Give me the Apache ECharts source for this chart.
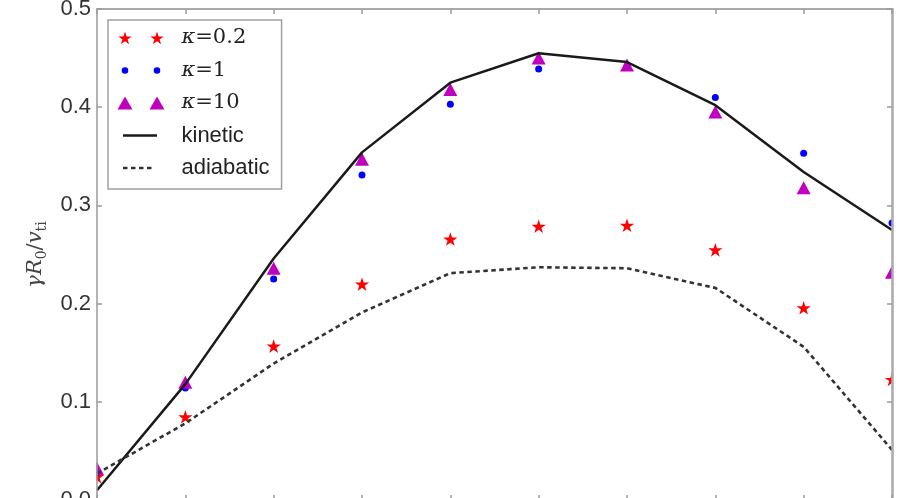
<!DOCTYPE html>
<html><head><meta charset="utf-8">
<script src="https://cdn.jsdelivr.net/npm/echarts@6/dist/echarts.min.js"></script>
<style>html,body{margin:0;padding:0;background:#fff}#c{width:899px;height:498px}</style>
</head><body><div id="c"></div>
<script>
// ---- data ----
const xValues   = [0, 1, 2, 3, 4, 5, 6, 7, 8, 9];
const kappa02   = [0.023, 0.084, 0.156, 0.219, 0.265, 0.278, 0.279, 0.254, 0.195, 0.122];
const kappa1    = [0.028, 0.114, 0.225, 0.331, 0.403, 0.439, 0.442, 0.410, 0.353, 0.282];
const kappa10   = [0.032, 0.120, 0.236, 0.347, 0.418, 0.450, 0.443, 0.395, 0.318, 0.232];
const kinetic   = [0.010, 0.118, 0.246, 0.354, 0.425, 0.455, 0.446, 0.402, 0.334, 0.275];
const adiabatic = [0.027, 0.078, 0.139, 0.191, 0.231, 0.237, 0.236, 0.216, 0.156, 0.051];
const yTickLabels = ['0.0', '0.1', '0.2', '0.3', '0.4', '0.5'];
const seriesNames = ['κ = 0.2', 'κ = 1', 'κ = 10', 'kinetic', 'adiabatic'];

// ---- helpers (styles only) ----
function pairs(arr) { return xValues.map((x, i) => [x, arr[i]]); }
function starPts(cx, cy, R) {
  const r = R * 0.382; let s = '';
  for (let k = 0; k < 10; k++) {
    const a = (-90 + k * 36) * Math.PI / 180, rr = (k % 2 === 0) ? R : r;
    s += (k === 0 ? 'M' : 'L') + (cx + rr * Math.cos(a)).toFixed(3) + ' ' + (cy + rr * Math.sin(a)).toFixed(3) + ' ';
  }
  return s + 'Z ';
}
function circ(cx, cy, r) {
  return 'M' + (cx - r) + ' ' + cy + ' A' + r + ' ' + r + ' 0 1 0 ' + (cx + r) + ' ' + cy +
         ' A' + r + ' ' + r + ' 0 1 0 ' + (cx - r) + ' ' + cy + ' Z ';
}
function tri(cx, cy, w, h) {
  return 'M' + (cx - w / 2) + ' ' + (cy + h / 2) + ' L' + cx + ' ' + (cy - h / 2) + ' L' + (cx + w / 2) + ' ' + (cy + h / 2) + ' Z ';
}
function rect(x0, x1, cy, t) {
  return 'M' + x0 + ' ' + (cy - t / 2) + ' L' + x1 + ' ' + (cy - t / 2) + ' L' + x1 + ' ' + (cy + t / 2) + ' L' + x0 + ' ' + (cy + t / 2) + ' Z ';
}
// invisible corner points fix the icon bounding box
const IW = 59, IH = 16, C1 = 7.5, C2 = 39.5, CY = 8;
const box = 'M0 0 L0 0 Z M' + IW + ' ' + IH + ' L' + IW + ' ' + IH + ' Z ';
const starSymbol = 'path://' + starPts(10, 10, 10) + 'M10 20 L10 20 Z';
const iconStar = 'path://' + box + starPts(C1, CY + 0.6, 7) + starPts(C2, CY + 0.6, 7);
const iconDot = 'path://' + box + circ(C1, CY, 3.3) + circ(C2, CY, 3.3);
const iconTri = 'path://' + box + tri(C1, CY, 15, 13) + tri(C2, CY, 15, 13);
const iconSolid = 'path://' + box + rect(5.5, 39.5, CY, 2.6);
let dashes = ''; for (let d = 0; d < 4; d++) dashes += rect(5.5 + d * 8, 10 + d * 8, CY, 2.6);
const iconDash = 'path://' + box + dashes;

const ax = { color: '#9a9a9a', width: 1.5 };
const chart = echarts.init(document.getElementById('c'), null, { renderer: 'canvas' });
chart.setOption({
  animation: false,
  backgroundColor: '#fff',
  grid: { left: 97, right: 7, top: 9, bottom: -2, containLabel: false, outerBoundsMode: 'none' },
  xAxis: [
    { type: 'value', position: 'bottom', min: 0, max: 9, interval: 1, z: 10,
      axisLine: { show: true, onZero: false, lineStyle: ax }, axisTick: { show: true, inside: true, length: 5, lineStyle: ax },
      axisLabel: { show: false }, splitLine: { show: false } },
    { type: 'value', position: 'top', min: 0, max: 9, interval: 1, z: 10,
      axisLine: { show: true, onZero: false, lineStyle: { color: '#aaa', width: 2 } },
      axisTick: { show: true, inside: true, length: 5, lineStyle: ax },
      axisLabel: { show: false }, splitLine: { show: false } }
  ],
  yAxis: [
    { type: 'value', position: 'left', min: 0, max: 0.5, interval: 0.1, z: 10,
      axisLine: { show: true, onZero: false, lineStyle: ax }, axisTick: { show: true, inside: true, length: 5, lineStyle: ax },
      splitLine: { show: false },
      axisLabel: { margin: 6, color: '#333', fontFamily: 'Liberation Sans', fontSize: 22,
                   formatter: v => yTickLabels[Math.round(v * 10)] },
      name: '{i|γR}{s|0}{n|/}{i|v}{s|ti}', nameLocation: 'middle', nameRotate: 90, nameGap: 40,
      nameTextStyle: { color: '#444', rich: {
        i: { fontFamily: 'DejaVu Serif', fontStyle: 'italic', fontSize: 21, lineHeight: 28, color: '#444' },
        n: { fontFamily: 'DejaVu Serif', fontSize: 21, lineHeight: 28, color: '#444' },
        s: { fontFamily: 'DejaVu Serif', fontSize: 14, lineHeight: 15, verticalAlign: 'bottom', color: '#444' }
      } } },
    { type: 'value', position: 'right', min: 0, max: 0.5, interval: 0.1, z: 10,
      axisLine: { show: true, onZero: false, lineStyle: { color: '#aaa', width: 2.5 } },
      axisTick: { show: true, inside: true, length: 5, lineStyle: ax },
      axisLabel: { show: false }, splitLine: { show: false } }
  ],
  legend: {
    orient: 'vertical', left: 108, top: 20, padding: [7, 12, 10, 9.5], z: 12,
    itemWidth: IW, itemHeight: IH, itemGap: 10.5,
    borderColor: '#a0a0a0', borderWidth: 1.5, backgroundColor: '#fff', borderRadius: 0,
    selectedMode: false,
    textStyle: { fontFamily: 'Liberation Sans', fontSize: 22, color: '#222', lineHeight: 22,
      rich: {
        k: { fontFamily: 'DejaVu Serif', fontStyle: 'italic', fontSize: 21, lineHeight: 22, color: '#222' },
        t: { fontFamily: 'DejaVu Serif', fontSize: 21, lineHeight: 22, color: '#222' }
      } },
    formatter: name => name.charAt(0) === 'κ' ? '{k|κ}{t|' + name.slice(1).replace(/ /g, '') + '}' : name,
    data: [
      { name: seriesNames[0], icon: iconStar, itemStyle: { color: '#ff0000', borderWidth: 0, opacity: 1 } },
      { name: seriesNames[1], icon: iconDot, itemStyle: { color: '#0000ff', borderWidth: 0, opacity: 1 } },
      { name: seriesNames[2], icon: iconTri, itemStyle: { color: '#bf00bf', borderWidth: 0, opacity: 1 } },
      { name: seriesNames[3], icon: iconSolid, itemStyle: { color: '#1a1a1a', borderWidth: 0, opacity: 1 } },
      { name: seriesNames[4], icon: iconDash, itemStyle: { color: '#333333', borderWidth: 0, opacity: 1 } }
    ]
  },
  graphic: [
    { type: 'rect', shape: { x: 0, y: 0, width: 96.5, height: 498 }, style: { fill: '#fff' }, z: 5, silent: true },
    { type: 'rect', shape: { x: 892.5, y: 0, width: 7, height: 498 }, style: { fill: '#fff' }, z: 5, silent: true }
  ],
  series: [
    { name: seriesNames[0], type: 'scatter', data: pairs(kappa02), symbol: starSymbol, symbolKeepAspect: true,
      symbolSize: 15, itemStyle: { color: '#ff0000', opacity: 1 }, z: 2 },
    { name: seriesNames[1], type: 'scatter', data: pairs(kappa1), symbol: 'circle', symbolSize: 7,
      itemStyle: { color: '#0000ff', opacity: 1 }, z: 2 },
    { name: seriesNames[2], type: 'scatter', data: pairs(kappa10), symbol: 'triangle', symbolSize: [14, 13],
      itemStyle: { color: '#bf00bf', opacity: 1 }, z: 2 },
    { name: seriesNames[3], type: 'line', data: pairs(kinetic), symbol: 'none', clip: true,
      lineStyle: { color: '#1a1a1a', width: 2.5 }, itemStyle: { color: '#1a1a1a' }, z: 3 },
    { name: seriesNames[4], type: 'line', data: pairs(adiabatic), symbol: 'none', clip: true,
      lineStyle: { color: '#333333', width: 2.6, type: [4.5, 3.5] }, itemStyle: { color: '#333333' }, z: 3 }
  ]
});
</script>
</body></html>
